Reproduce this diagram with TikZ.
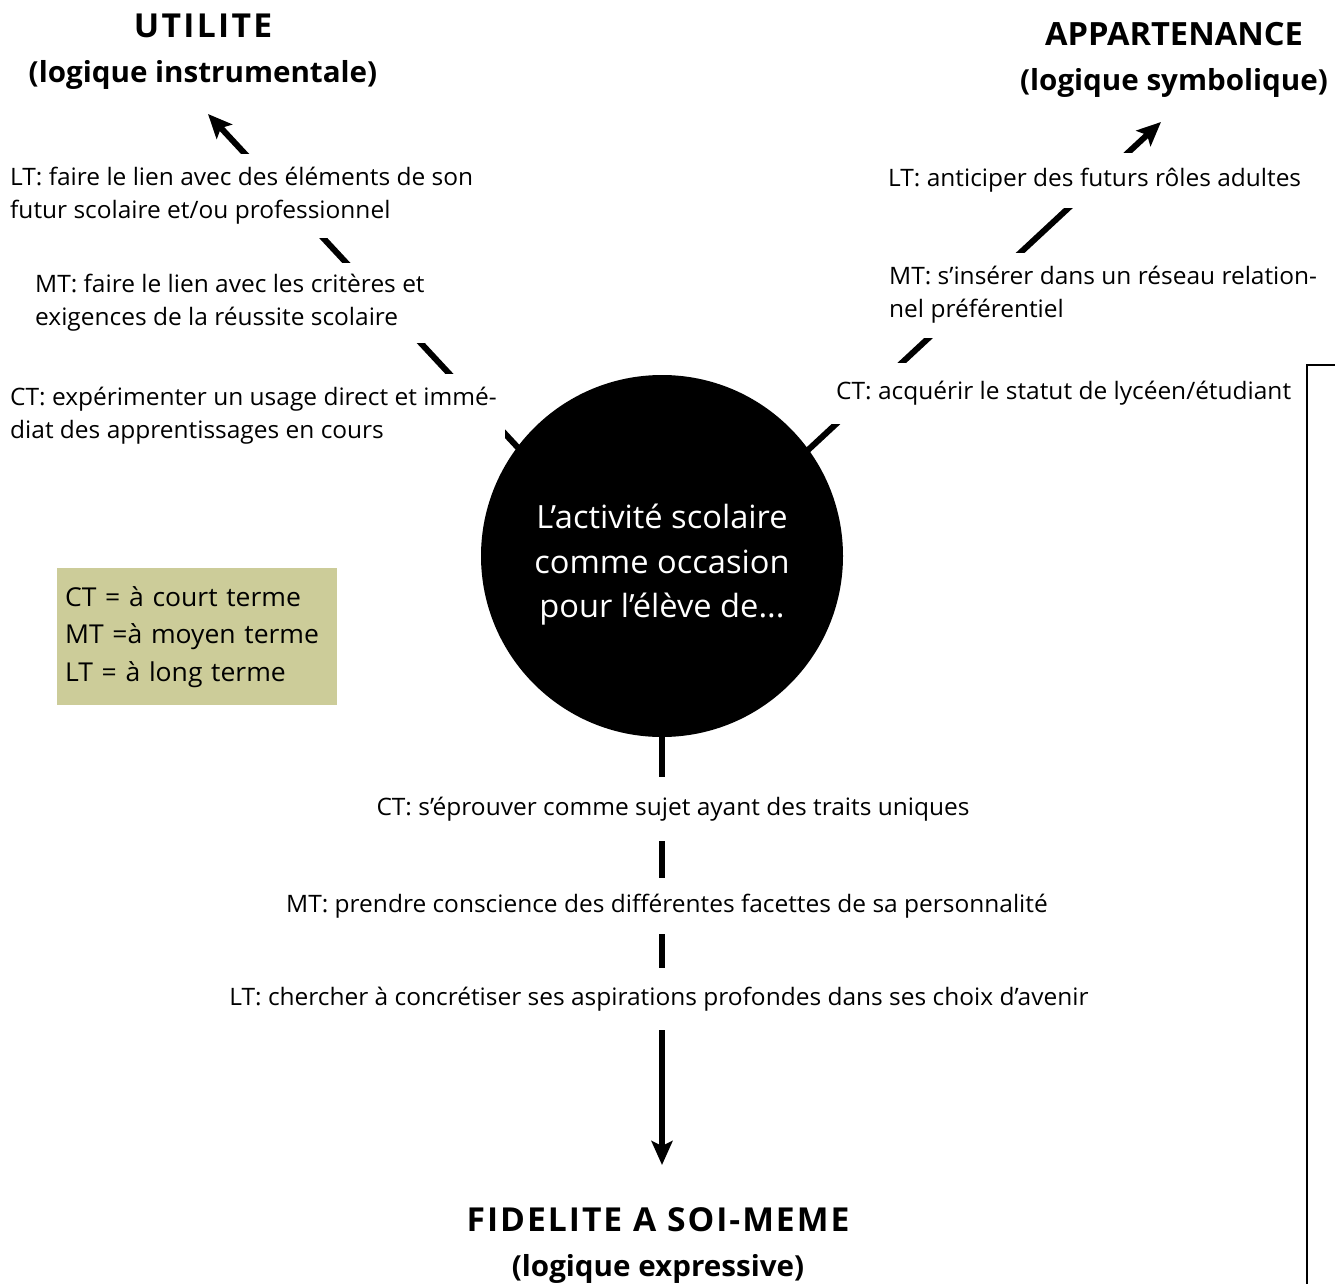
\documentclass[tikz,border=0pt]{standalone}
\usepackage{fontspec}
\setmainfont{Open Sans}[FakeStretch=1.02]
\usetikzlibrary{arrows.meta}
\definecolor{legendfill}{RGB}{204,204,153}
\pgfdeclarelayer{bg}
\pgfdeclarelayer{lines}
\pgfsetlayers{bg,lines,main}
\begin{document}
\begin{tikzpicture}[x=1pt,y=-1pt,
  arr/.style={line width=6pt,-{Stealth[length=24pt,width=21pt,inset=5pt]}},
  lbl/.style={fill=white,inner xsep=8pt,inner ysep=0pt,font=\fontsize{24}{33}\selectfont,align=left},
  lblc/.style={lbl,align=center},
  ttl/.style={font=\fontsize{29}{45}\selectfont\bfseries,align=center,inner sep=0pt},
]
\begin{pgfonlayer}{bg}
\fill[white] (0,0) rectangle (1335,1284);
\end{pgfonlayer}
\useasboundingbox (0,0) rectangle (1335,1284);

% titles
\node[ttl] (util) at (203,52)
  {{\fontsize{33}{45}\selectfont\addfontfeature{LetterSpace=7}UTILITE}\\(logique instrumentale)};
\node[ttl] (appart) at (1174,60)
  {{\fontsize{32}{45}\selectfont APPARTENANCE}\\(logique symbolique)};
\node[ttl] (fid) at (658,1246)
  {{\fontsize{33}{45}\selectfont\addfontfeature{LetterSpace=6}FIDELITE A SOI-MEME}\\(logique expressive)};

% central circle
\node[circle,fill=black,minimum size=362pt,inner sep=0pt] (circ) at (662,556) {};
\node[text=white,align=center,inner sep=0pt,
      font=\fontsize{32}{44.5}\selectfont] (circtxt) at (662,565)
      {L’activité scolaire\\comme occasion\\pour l’élève de...};

% arrow tips
\coordinate (tipL) at (208,114);
\coordinate (tipR) at (1161,122);
\coordinate (tipB) at (662,1165);

% labels (white boxes interrupt the arrows)
\node[lbl,anchor=west,minimum height=83pt] (ltL) at (2,196)
  {LT: faire le lien avec des éléments de son\\futur scolaire et/ou professionnel};
\node[lbl,anchor=west,minimum height=80pt] (mtL) at (27,303)
  {MT: faire le lien avec les critères et\\exigences de la réussite scolaire};
\node[lbl,anchor=west,minimum height=85pt] (ctL) at (2,416)
  {CT: expérimenter un usage direct et immé-\\diat des apprentissages en cours};
\node[lbl,anchor=west,minimum height=55pt] (ltR) at (880,180.5)
  {LT: anticiper des futurs rôles adultes};
\node[lbl,anchor=west,minimum height=85pt] (mtR) at (881,295)
  {MT: s’insérer dans un réseau relation-\\nel préférentiel};
\node[lbl,anchor=west,minimum height=61pt] (ctR) at (828,393)
  {CT: acquérir le statut de lycéen/étudiant};
\node[lblc,minimum height=64pt] (ctB) at (673,809)
  {CT: s’éprouver comme sujet ayant des traits uniques};
\node[lblc,minimum height=56pt] (mtB) at (667,906)
  {MT: prendre conscience des différentes facettes de sa personnalité};
\node[lblc,minimum height=62pt] (ltB) at (659,999)
  {LT: chercher à concrétiser ses aspirations profondes dans ses choix d’avenir};

% legend
\node[fill=legendfill,anchor=north west,text width=264pt,inner xsep=8pt,inner ysep=0pt,
      minimum height=137pt,align=left,font=\fontsize{26}{37.5}\selectfont] (legend) at (57,568)
  {CT = à court terme\\MT =à moyen terme\\LT = à long terme};

% connectors
\begin{pgfonlayer}{lines}
\draw[arr,shorten <=-12pt] (circ.143) -- (tipL);
\draw[arr,shorten <=-12pt] (circ.36) -- (tipR);
\draw[arr,shorten <=-12pt] (circ.south) -- (tipB);
\end{pgfonlayer}

% partial frame at the right edge
\draw[line width=2pt] (1307,1300) -- (1307,365) -- (1345,365);
\end{tikzpicture}
\end{document}
